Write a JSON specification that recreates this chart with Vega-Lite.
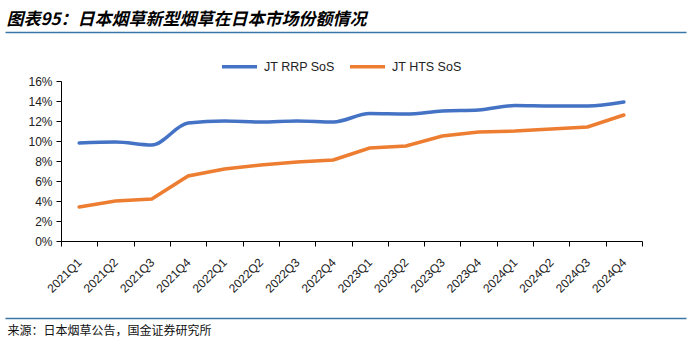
{
  "$schema": "https://vega.github.io/schema/vega-lite/v6.json",
  "autosize": "none",
  "width": 681,
  "height": 160,
  "padding": {"left": 5, "top": 81, "right": 14, "bottom": 110},
  "background": "white",
  "config": {
    "view": {"stroke": null},
    "font": "Liberation Sans",
    "axis": {"labelFont": "Liberation Sans", "labelFontSize": 12, "labelColor": "#222222", "domainColor": "#000000", "tickColor": "#000000", "grid": false, "labelOverlap": false}
  },
  "data": {
    "values": [
      {"quarter": "2021Q1", "series": "JT RRP SoS", "value": 9.8},
      {"quarter": "2021Q2", "series": "JT RRP SoS", "value": 9.9},
      {"quarter": "2021Q3", "series": "JT RRP SoS", "value": 9.6},
      {"quarter": "2021Q4", "series": "JT RRP SoS", "value": 11.8},
      {"quarter": "2022Q1", "series": "JT RRP SoS", "value": 12.0},
      {"quarter": "2022Q2", "series": "JT RRP SoS", "value": 11.9},
      {"quarter": "2022Q3", "series": "JT RRP SoS", "value": 12.0},
      {"quarter": "2022Q4", "series": "JT RRP SoS", "value": 11.9},
      {"quarter": "2023Q1", "series": "JT RRP SoS", "value": 12.75},
      {"quarter": "2023Q2", "series": "JT RRP SoS", "value": 12.7},
      {"quarter": "2023Q3", "series": "JT RRP SoS", "value": 13.0},
      {"quarter": "2023Q4", "series": "JT RRP SoS", "value": 13.1},
      {"quarter": "2024Q1", "series": "JT RRP SoS", "value": 13.55},
      {"quarter": "2024Q2", "series": "JT RRP SoS", "value": 13.5},
      {"quarter": "2024Q3", "series": "JT RRP SoS", "value": 13.5},
      {"quarter": "2024Q4", "series": "JT RRP SoS", "value": 13.9},
      {"quarter": "2021Q1", "series": "JT HTS SoS", "value": 3.4},
      {"quarter": "2021Q2", "series": "JT HTS SoS", "value": 4.0},
      {"quarter": "2021Q3", "series": "JT HTS SoS", "value": 4.2},
      {"quarter": "2021Q4", "series": "JT HTS SoS", "value": 6.5},
      {"quarter": "2022Q1", "series": "JT HTS SoS", "value": 7.2},
      {"quarter": "2022Q2", "series": "JT HTS SoS", "value": 7.6},
      {"quarter": "2022Q3", "series": "JT HTS SoS", "value": 7.9},
      {"quarter": "2022Q4", "series": "JT HTS SoS", "value": 8.1},
      {"quarter": "2023Q1", "series": "JT HTS SoS", "value": 9.3},
      {"quarter": "2023Q2", "series": "JT HTS SoS", "value": 9.5},
      {"quarter": "2023Q3", "series": "JT HTS SoS", "value": 10.5},
      {"quarter": "2023Q4", "series": "JT HTS SoS", "value": 10.9},
      {"quarter": "2024Q1", "series": "JT HTS SoS", "value": 11.0},
      {"quarter": "2024Q2", "series": "JT HTS SoS", "value": 11.2},
      {"quarter": "2024Q3", "series": "JT HTS SoS", "value": 11.4},
      {"quarter": "2024Q4", "series": "JT HTS SoS", "value": 12.6}
    ]
  },
  "resolve": {"scale": {"x": "independent", "y": "independent"}, "axis": {"x": "independent", "y": "independent"}},
  "layer": [
    {
      "transform": [{"filter": "datum.series === 'JT RRP SoS'"}],
      "mark": {"type": "line", "interpolate": "monotone", "strokeWidth": 3.5, "strokeCap": "round"},
      "encoding": {
        "x": {
          "field": "quarter", "type": "ordinal", "bandPosition": 0.5,
          "scale": {"type": "band", "paddingInner": 0, "paddingOuter": 0, "rangeMin": 56, "rangeMax": 637},
          "axis": {
            "orient": "bottom",
            "tickBand": "extent",
            "tickSize": 5,
            "labelAngle": -45,
            "labelAlign": "right",
            "labelBaseline": "middle",
            "labelPadding": 14,
            "title": "来源：日本烟草公告，国金证券研究所",
            "titleFont": "Noto Sans CJK SC",
            "titleFontSize": 12,
            "titleFontWeight": "normal",
            "titleColor": "#111111",
            "titleAnchor": "start",
            "titleAlign": "left",
            "titleBaseline": "alphabetic",
            "titleX": 2,
            "titleY": 93
          }
        },
        "y": {
          "field": "value", "type": "quantitative",
          "scale": {"domain": [0, 16]},
          "axis": {"orient": "left", "offset": -56, "values": [0, 2, 4, 6, 8, 10, 12, 14, 16], "labelExpr": "datum.value + '%'", "title": null, "tickSize": 5, "labelPadding": 4}
        },
        "color": {
          "field": "series", "type": "nominal",
          "scale": {"domain": ["JT RRP SoS", "JT HTS SoS"], "range": ["#4472C4", "#ED7D31"]},
          "legend": {
            "title": null,
            "orient": "none",
            "direction": "horizontal",
            "legendX": 215,
            "legendY": -34,
            "padding": 0,
            "symbolType": "stroke",
            "symbolSize": 1225,
            "symbolStrokeWidth": 3.5,
            "labelFont": "Liberation Sans",
            "labelFontSize": 12.5,
            "labelColor": "#222222",
            "labelOffset": 5,
            "columnPadding": 8
          }
        }
      }
    },
    {
      "transform": [{"filter": "datum.series === 'JT HTS SoS'"}],
      "mark": {"type": "line", "interpolate": "linear", "strokeWidth": 3.5, "strokeCap": "round"},
      "encoding": {
        "x": {
          "field": "quarter", "type": "ordinal", "bandPosition": 0.5,
          "scale": {
            "type": "band",
            "domain": ["", "2021Q1", "2021Q2", "2021Q3", "2021Q4", "2022Q1", "2022Q2", "2022Q3", "2022Q4", "2023Q1", "2023Q2", "2023Q3", "2023Q4", "2024Q1", "2024Q2", "2024Q3", "2024Q4", " "],
            "paddingInner": 0, "paddingOuter": 0.37694, "align": 0.7192
          },
          "axis": {
            "orient": "top",
            "offset": 49,
            "labels": false,
            "ticks": false,
            "domain": false,
            "title": "图表95：日本烟草新型烟草在日本市场份额情况",
            "titleFont": "Noto Sans CJK SC",
            "titleFontSize": 17,
            "titleFontWeight": "bold",
            "titleFontStyle": "italic",
            "titleColor": "#000000",
            "titleAnchor": "start",
            "titleAlign": "left",
            "titleBaseline": "alphabetic",
            "titleX": 1,
            "titleY": -8
          }
        },
        "y": {
          "field": "value", "type": "quantitative",
          "scale": {"domain": [-7.7, 20.9], "nice": false, "zero": false, "rangeMin": 237, "rangeMax": -49},
          "axis": {"orient": "right", "values": [-7.7, 20.9], "labels": false, "ticks": false, "domain": false, "grid": true, "gridColor": "#3A77A6", "gridWidth": 1.5, "title": null}
        },
        "color": {"field": "series", "type": "nominal"}
      }
    }
  ]
}
